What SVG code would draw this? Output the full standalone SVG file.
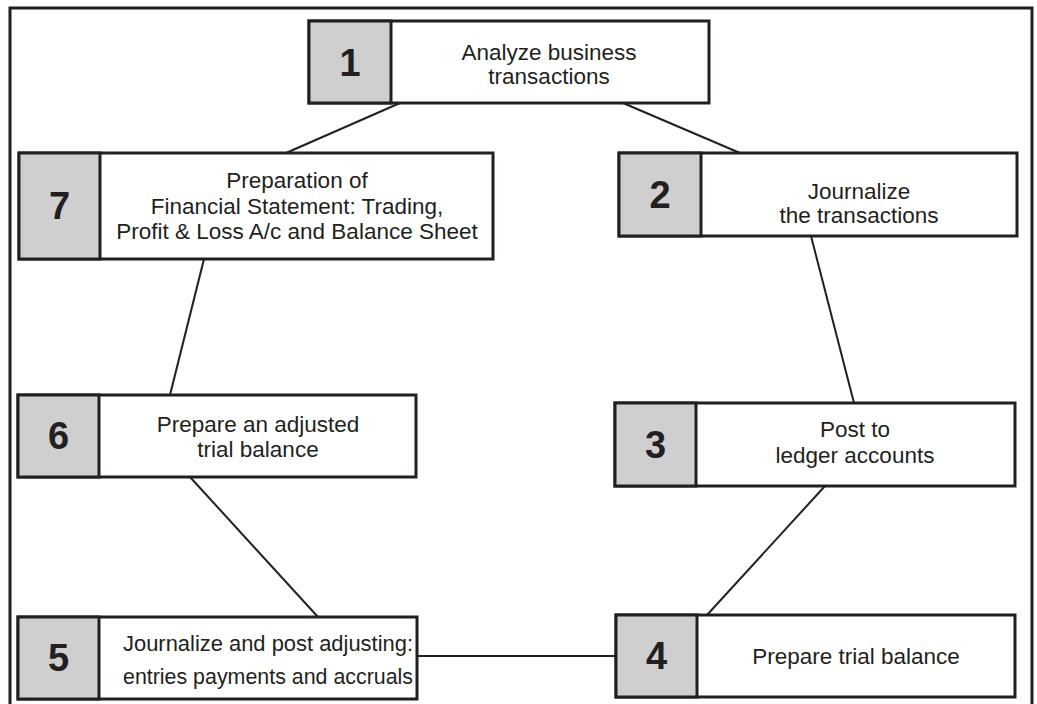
<svg xmlns="http://www.w3.org/2000/svg" width="1037" height="704" viewBox="0 0 1037 704">
<style>
.num{fill:#cfcfcf;stroke:#231f20;stroke-width:3}
.box{fill:#fff;stroke:#231f20;stroke-width:3}
.n{font-family:"Liberation Sans",Arial,sans-serif;font-weight:bold;font-size:38px;fill:#231f20;text-anchor:middle}
.t{font-family:"Liberation Sans",Arial,sans-serif;font-size:22.5px;fill:#231f20;text-anchor:middle}
.c line{stroke:#231f20;stroke-width:2}
</style>
<rect width="1037" height="704" fill="#fff"/>
<path d="M10,706 V8 H1032 V706" fill="none" stroke="#231f20" stroke-width="3"/>
<g class="c" id="connectors">
<line x1="400" y1="103" x2="286" y2="153"/>
<line x1="623" y1="103" x2="740" y2="153"/>
<line x1="811" y1="236" x2="854" y2="403"/>
<line x1="825" y1="486" x2="707" y2="615"/>
<line x1="417" y1="656" x2="616" y2="656"/>
<line x1="190" y1="477" x2="318" y2="617"/>
<line x1="204" y1="259" x2="170" y2="395"/>
</g>
<g id="node1">
<rect class="box" x="309" y="21" width="400" height="82"/>
<rect class="num" x="309" y="21" width="82" height="82"/>
<text class="n" x="350" y="76">1</text>
<text class="t" x="549" y="59.5">Analyze business</text>
<text class="t" x="549" y="84">transactions</text>
</g>
<g id="node2">
<rect class="box" x="619" y="153" width="398" height="83"/>
<rect class="num" x="619" y="153" width="82" height="83"/>
<text class="n" x="660" y="208">2</text>
<text class="t" x="859" y="199">Journalize</text>
<text class="t" x="859" y="223">the transactions</text>
</g>
<g id="node3">
<rect class="box" x="615" y="403" width="400" height="83"/>
<rect class="num" x="615" y="403" width="81" height="83"/>
<text class="n" x="655.5" y="458">3</text>
<text class="t" x="855" y="437">Post to</text>
<text class="t" x="855" y="463">ledger accounts</text>
</g>
<g id="node4">
<rect class="box" x="616" y="615" width="399" height="82"/>
<rect class="num" x="616" y="615" width="81" height="82"/>
<text class="n" x="656.5" y="669">4</text>
<text class="t" x="856" y="664">Prepare trial balance</text>
</g>
<g id="node5">
<rect class="box" x="18" y="617" width="399" height="82"/>
<rect class="num" x="18" y="617" width="81" height="82"/>
<text class="n" x="58.5" y="671">5</text>
<text class="t" x="268" y="651" textLength="290" lengthAdjust="spacingAndGlyphs">Journalize and post adjusting:</text>
<text class="t" x="268" y="684" textLength="290" lengthAdjust="spacingAndGlyphs">entries payments and accruals</text>
</g>
<g id="node6">
<rect class="box" x="18" y="395" width="398" height="82"/>
<rect class="num" x="18" y="395" width="81" height="82"/>
<text class="n" x="58.5" y="449">6</text>
<text class="t" x="258" y="432">Prepare an adjusted</text>
<text class="t" x="258" y="457">trial balance</text>
</g>
<g id="node7">
<rect class="box" x="19" y="153" width="474" height="106"/>
<rect class="num" x="19" y="153" width="81" height="106"/>
<text class="n" x="59.5" y="219">7</text>
<text class="t" x="297" y="188">Preparation of</text>
<text class="t" x="297" y="214">Financial Statement: Trading,</text>
<text class="t" x="297" y="239">Profit &amp; Loss A/c and Balance Sheet</text>
</g>
</svg>
